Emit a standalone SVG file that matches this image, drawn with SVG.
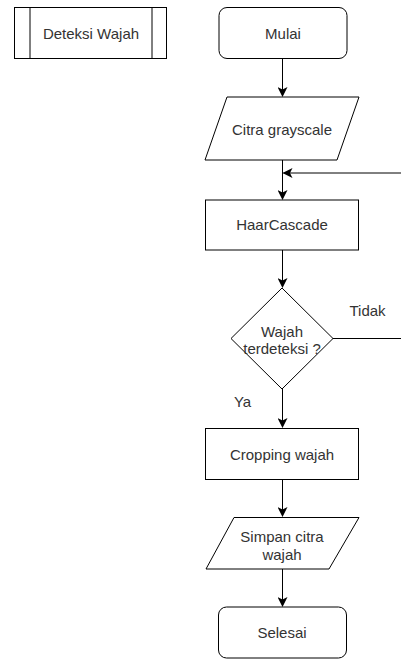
<svg xmlns="http://www.w3.org/2000/svg" width="401" height="659" viewBox="0 0 401 659">
<style>
.s{fill:#fff;stroke:#000;stroke-width:1}
.t{font-family:"Liberation Sans",Arial,sans-serif;font-size:15px;fill:#333;text-anchor:middle}
.c{fill:none;stroke:#000;stroke-width:1}
</style>
<defs>
<marker id="a" viewBox="0 0 10 10" refX="9" refY="5" markerWidth="10" markerHeight="10" markerUnits="userSpaceOnUse" orient="auto">
<path d="M0,0 L10,5 L0,10 L2.5,5 Z" fill="#000"/>
</marker>
</defs>
<rect width="401" height="659" fill="#fff"/>
<g id="connectors">
<path class="c" d="M282.5,59 V96" marker-end="url(#a)"/>
<path class="c" d="M282.5,160 V199" marker-end="url(#a)"/>
<path class="c" d="M401,173 H283.5" marker-end="url(#a)"/>
<path class="c" d="M282.5,250 V287" marker-end="url(#a)"/>
<path class="c" d="M333,338.5 H401"/>
<path class="c" d="M282.5,389 V427" marker-end="url(#a)"/>
<path class="c" d="M282.5,480 V516" marker-end="url(#a)"/>
<path class="c" d="M282.5,569 V606" marker-end="url(#a)"/>
</g>
<g id="deteksi">
<rect class="s" x="14.5" y="7.5" width="152" height="51"/>
<line class="c" x1="30" y1="7.5" x2="30" y2="58.5"/>
<line class="c" x1="152" y1="7.5" x2="152" y2="58.5"/>
<text class="t" x="91" y="39">Deteksi Wajah</text>
</g>
<g id="mulai">
<rect class="s" x="219" y="7.5" width="128" height="51" rx="8"/>
<text class="t" x="283" y="39">Mulai</text>
</g>
<g id="citra">
<path class="s" d="M227,97 H359 L337,160 H205 Z"/>
<text class="t" x="282" y="135">Citra grayscale</text>
</g>
<g id="haar">
<rect class="s" x="205.5" y="200" width="153" height="50"/>
<text class="t" x="282" y="230">HaarCascade</text>
</g>
<g id="decision">
<path class="s" d="M282,288 L333,338.5 L282,389 L231,338.5 Z"/>
<text class="t" x="282" y="337">Wajah</text>
<text class="t" x="282" y="354">terdeteksi ?</text>
</g>
<text class="t" x="367.5" y="316">Tidak</text>
<text class="t" x="242.5" y="407">Ya</text>
<g id="cropping">
<rect class="s" x="205.5" y="428.5" width="153" height="51"/>
<text class="t" x="282" y="460">Cropping wajah</text>
</g>
<g id="simpan">
<path class="s" d="M234,517.5 H359 L329,569 H206 Z"/>
<text class="t" x="282" y="542">Simpan citra</text>
<text class="t" x="282" y="560">wajah</text>
</g>
<g id="selesai">
<rect class="s" x="218.5" y="607" width="128" height="51" rx="8"/>
<text class="t" x="282" y="638">Selesai</text>
</g>
</svg>
